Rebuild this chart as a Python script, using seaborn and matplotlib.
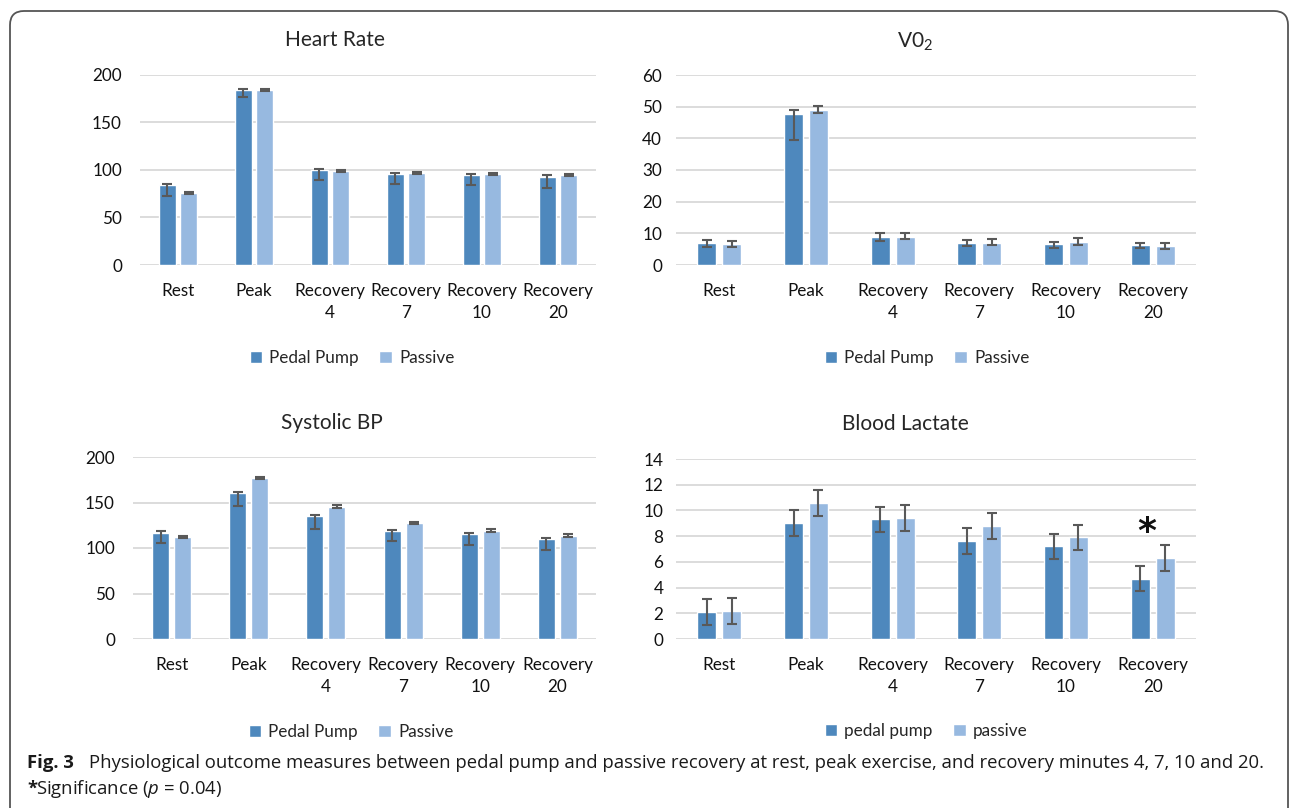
import pandas as pd
import numpy as np
import matplotlib.pyplot as plt
import seaborn as sns
from matplotlib.patches import FancyBboxPatch
from matplotlib.transforms import IdentityTransform

# =====================================
# Data
# =====================================

categories = ["Rest", "Peak", "Recovery\n4", "Recovery\n7", "Recovery\n10", "Recovery\n20"]

# Heart Rate
hr_pp = [84, 184, 100, 96, 94.5, 93]
hr_pp_lo = [12, 7, 11, 11, 10.5, 12]
hr_pp_hi = [1.5, 1.2, 1.4, 1.2, 1.4, 1.2]
hr_pa = [75.5, 183.5, 99, 96.5, 95.5, 94.5]
hr_pa_lo = [1.2, 1, 1.3, 1.3, 1, 1]
hr_pa_hi = [1.2, 1, 1.3, 1.3, 1, 1]

# V02
v_pp = [6.8, 47.8, 8.9, 6.8, 6.5, 6.2]
v_pp_lo = [1.2, 8.4, 1.3, 0.8, 1.0, 0.9]
v_pp_hi = [1.1, 1.1, 1.1, 1.1, 0.9, 0.9]
v_pa = [6.5, 49.1, 9.0, 7.1, 7.4, 5.9]
v_pa_lo = [0.9, 1.1, 0.9, 0.9, 1.1, 1.0]
v_pa_hi = [1.1, 1.0, 1.1, 1.1, 1.0, 1.0]

# Systolic BP
bp_pp = [117, 160.5, 135, 118.5, 115, 110]
bp_pp_lo = [11, 14, 14, 11, 11.5, 12]
bp_pp_hi = [1.5, 1.5, 1.5, 1.2, 1.5, 1.5]
bp_pa = [112, 177, 145.5, 127.5, 119, 113.5]
bp_pa_lo = [1.5, 1.5, 1.5, 1.5, 1.5, 1.5]
bp_pa_hi = [1.5, 1.5, 1.5, 1.5, 1.5, 1.5]

# Blood Lactate
bl_pp = [2.1, 9.0, 9.3, 7.6, 7.2, 4.7]
bl_pp_err = [1.0, 1.0, 1.0, 1.0, 1.0, 1.0]
bl_pa = [2.2, 10.6, 9.4, 8.8, 7.9, 6.3]
bl_pa_err = [1.0, 1.0, 1.0, 1.0, 1.0, 1.0]

series_upper = ["Pedal Pump", "Passive"]
series_lactate = ["pedal pump", "passive"]

COL_PP = "#4E88BD"
COL_PA = "#97B9E0"
ERR_COL = "#595959"
GRID_COL = "#D9D9D9"

W, H = 1290, 808

# =====================================
# Style
# =====================================

sns.set_theme(style="white")
plt.rcParams["font.family"] = ["Lato", "DejaVu Sans"]
plt.rcParams["mathtext.fontset"] = "custom"
plt.rcParams["mathtext.rm"] = "Lato"
plt.rcParams["mathtext.it"] = "Open Sans:italic"
plt.rcParams["mathtext.bf"] = "Open Sans:bold"

fig = plt.figure(figsize=(W / 100, H / 100), dpi=100)


def px_axes(left, top, right, bottom):
    return fig.add_axes([left / W, 1 - bottom / H, (right - left) / W, (bottom - top) / H])


def panel(ax, pp, pa, pp_lo, pp_hi, pa_lo, pa_hi, names, ymax, ystep, ypad):
    df = pd.DataFrame({
        "cat": categories * 2,
        "val": list(pp) + list(pa),
        "grp": [names[0]] * len(pp) + [names[1]] * len(pa),
    })
    sns.barplot(
        data=df, x="cat", y="val", hue="grp",
        palette=[COL_PP, COL_PA], width=0.572, gap=0.23,
        errorbar=None, saturation=1, ax=ax, zorder=2,
    )
    for cont, lo, hi in zip(ax.containers, [pp_lo, pa_lo], [pp_hi, pa_hi]):
        xs = [b.get_x() + b.get_width() / 2 for b in cont]
        ys = [b.get_height() for b in cont]
        ax.errorbar(xs, ys, yerr=[lo, hi], fmt="none", ecolor=ERR_COL,
                    elinewidth=1.5, capsize=3.6, capthick=1.5, zorder=3)
    ax.set_ylim(0, ymax)
    ax.set_yticks(np.arange(0, ymax + ystep / 2, ystep))
    ax.set_xlim(-0.5, 5.5)
    ax.grid(axis="y", color=GRID_COL, linewidth=1.3)
    ax.set_axisbelow(True)
    sns.despine(ax=ax, left=True, bottom=True)
    ax.tick_params(axis="both", length=0, labelsize=12.3, colors="#111111")
    ax.tick_params(axis="y", pad=ypad)
    ax.tick_params(axis="x", pad=13)
    for lab in ax.get_xticklabels():
        lab.set_linespacing(1.45)
    ax.set_xlabel("")
    ax.set_ylabel("")
    return ax


def place_legend(ax, cx, cy):
    sns.move_legend(
        ax, "center", bbox_to_anchor=(cx / W, 1 - cy / H),
        bbox_transform=fig.transFigure, ncol=2, frameon=False, title=None,
        fontsize=12.3, handlelength=0.75, handleheight=0.75,
        handletextpad=0.4, columnspacing=1.2,
    )


# =====================================
# Panels
# =====================================

ax1 = px_axes(140, 74.7, 596, 265)
panel(ax1, hr_pp, hr_pa, hr_pp_lo, hr_pp_hi, hr_pa_lo, hr_pa_hi, series_upper, 200, 50, 13)
place_legend(ax1, 352, 358)
fig.text(335 / W, 1 - 40 / H, "Heart Rate", ha="center", va="center", fontsize=15)

ax2 = px_axes(676, 75, 1196, 265)
panel(ax2, v_pp, v_pa, v_pp_lo, v_pp_hi, v_pa_lo, v_pa_hi, series_upper, 60, 10, 10)
place_legend(ax2, 927, 358)
fig.text(915 / W, 1 - 42 / H, "V0$_2$", ha="center", va="center", fontsize=15)

ax3 = px_axes(133, 457, 596, 639)
panel(ax3, bp_pp, bp_pa, bp_pp_lo, bp_pp_hi, bp_pa_lo, bp_pa_hi, series_upper, 200, 50, 13)
place_legend(ax3, 351, 732)
fig.text(332 / W, 1 - 423 / H, "Systolic BP", ha="center", va="center", fontsize=15)

ax4 = px_axes(676, 459, 1196, 639)
panel(ax4, bl_pp, bl_pa, bl_pp_err, bl_pp_err, bl_pa_err, bl_pa_err, series_lactate, 14, 2, 9)
place_legend(ax4, 926, 731)
fig.text(905 / W, 1 - 424 / H, "Blood Lactate", ha="center", va="center", fontsize=15)

# significance marker above recovery 20 pedal pump bar
star_bar = ax4.containers[0][5]
ax4.text(star_bar.get_x() + star_bar.get_width() / 2 + 0.08, 8.3, "*",
         ha="center", va="center", fontsize=26, fontweight="bold",
         family="DejaVu Sans", color="#111111")

# =====================================
# Frame and caption
# =====================================

frame = FancyBboxPatch(
    (10, -30), 1278, 827, boxstyle="round,pad=0,rounding_size=14",
    transform=IdentityTransform(), facecolor="none", edgecolor="#555555",
    linewidth=1.3, figure=fig,
)
fig.patches.append(frame)

cap_size = 13.3
fig.text(27 / W, 1 - 763 / H, "Fig. 3", ha="left", va="center",
         fontsize=cap_size, fontweight="bold", family="Open Sans", color="#1a1a1a")
fig.text(89 / W, 1 - 763 / H,
         "Physiological outcome measures between pedal pump and passive recovery at rest, "
         "peak exercise, and recovery minutes 4, 7, 10 and 20.",
         ha="left", va="center", fontsize=cap_size, family="Open Sans", color="#1a1a1a")
fig.text(27 / W, 1 - 789 / H, "*", ha="left", va="center",
         fontsize=cap_size, fontweight="bold", family="Open Sans", color="#1a1a1a")
fig.text(36 / W, 1 - 789 / H, "Significance ($p$ = 0.04)", ha="left", va="center",
         fontsize=cap_size, family="Open Sans", color="#1a1a1a")

fig.savefig("out.png", dpi=100)
